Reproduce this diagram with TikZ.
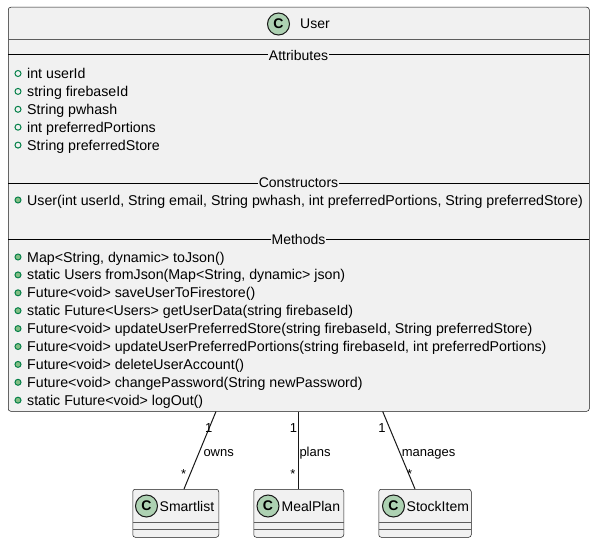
\documentclass[tikz,border=0pt]{standalone}
\usepackage{fontspec}
\setmainfont{Liberation Sans}
\usetikzlibrary{calc}
\definecolor{boxbg}{HTML}{F1F1F1}
\definecolor{boxline}{HTML}{181818}
\definecolor{iconfill}{HTML}{ADD1B2}
\definecolor{visline}{HTML}{038048}
\definecolor{visfill}{HTML}{84BE84}
\begin{document}
\begin{tikzpicture}[x=1pt,y=-1pt,
  classbox/.style={draw=boxline, fill=boxbg, line width=0.5pt, rounded corners=2.5pt, rectangle, inner sep=0pt, anchor=north west},
  member/.style={anchor=base west, inner sep=0pt, font=\fontsize{14.2}{16}\selectfont},
  cname/.style={anchor=base west, inner sep=0pt, font=\fontsize{14}{16}\selectfont},
  seclabel/.style={fill=boxbg, inner xsep=1pt, inner ysep=0pt, font=\fontsize{14}{16}\selectfont},
  secline/.style={draw=black, line width=1pt},
  hsep/.style={draw=boxline!70, line width=0.5pt},
  icon/.style={circle, draw=boxline, fill=iconfill, line width=1pt, minimum size=22pt, inner sep=0pt, font=\bfseries\fontsize{14}{16}\selectfont},
  attrdot/.style={circle, draw=visline, line width=1pt, minimum size=6pt, inner sep=0pt},
  methdot/.style={circle, draw=visline, fill=visfill, line width=1pt, minimum size=6pt, inner sep=0pt},
  assoc/.style={draw=boxline, line width=1pt},
  elabel/.style={anchor=base west, inner sep=0pt, font=\fontsize{13}{15}\selectfont},
]
\useasboundingbox (0,0) rectangle (595,543);
\fill[white] (0,0) rectangle (595,543);

% User class
\node[classbox, minimum width=581pt, minimum height=404pt] (user) at (8,7) {};
\draw[hsep] (8,39) -- (589,39);
\node[icon] (uicon) at (278.5,24) {C};
\node[cname] (uname) at (300,29) {User};

\draw[secline] (8,55) -- (589,55);
\node[seclabel] (secattr) at (298.5,55) {Attributes};
\foreach \t [count=\i from 0] in {{int userId},{string firebaseId},{String pwhash},{int preferredPortions},{String preferredStore}} {
  \node[attrdot] (ad\i) at (18,{73.5+17.9*\i}) {};
  \node[member] (at\i) at (27,{78.5+17.9*\i}) {\t};
}

\draw[secline] (8,183) -- (589,183);
\node[seclabel] (seccons) at (298.5,183) {Constructors};
\node[methdot] (cd0) at (18,200) {};
\node[member] (ct0) at (27,205) {User(int userId, String email, String pwhash, int preferredPortions, String preferredStore)};

\draw[secline] (8,239) -- (589,239);
\node[seclabel] (secmeth) at (298.5,239) {Methods};
\foreach \t [count=\i from 0] in {
  {Map<String, dynamic> toJson()},
  {static Users fromJson(Map<String, dynamic> json)},
  {Future<void> saveUserToFirestore()},
  {static Future<Users> getUserData(string firebaseId)},
  {Future<void> updateUserPreferredStore(string firebaseId, String preferredStore)},
  {Future<void> updateUserPreferredPortions(string firebaseId, int preferredPortions)},
  {Future<void> deleteUserAccount()},
  {Future<void> changePassword(String newPassword)},
  {static Future<void> logOut()}} {
  \node[methdot] (md\i) at (18,{257+17.9*\i}) {};
  \node[member] (mt\i) at (27,{262+17.9*\i}) {\t};
}

% Smartlist
\node[classbox, minimum width=86pt, minimum height=48pt] (smart) at (132.5,489) {};
\draw[hsep] (132.5,522) -- (218.5,522);
\draw[hsep] (132.5,529) -- (218.5,529);
\node[icon] (sicon) at (146.5,506) {C};
\node[cname] (sname) at (159.5,511) {Smartlist};

% MealPlan
\node[classbox, minimum width=90pt, minimum height=48pt] (meal) at (253.5,489) {};
\draw[hsep] (253.5,522) -- (343.5,522);
\draw[hsep] (253.5,529) -- (343.5,529);
\node[icon] (micon) at (268,506) {C};
\node[cname] (mname) at (281.5,511) {MealPlan};

% StockItem
\node[classbox, minimum width=92.5pt, minimum height=48pt] (stock) at (378.5,489) {};
\draw[hsep] (378.5,522) -- (471,522);
\draw[hsep] (378.5,529) -- (471,529);
\node[icon] (kicon) at (393.5,506) {C};
\node[cname] (kname) at (406.5,511) {StockItem};

% associations
\draw[assoc] ($(user.south west)+(208,0)$) -- ($(smart.north west)+(51.5,0)$);
\draw[assoc] (meal.north |- user.south) -- (meal.north);
\draw[assoc] ($(user.south west)+(374.7,0)$) -- ($(stock.north west)+(36.5,0)$);

\node[elabel] (s1) at (205,432.7) {1};
\node[elabel] (s2) at (203.3,456) {owns};
\node[elabel] (s3) at (180.8,478) {*};

\node[elabel] (m1) at (289.7,432.7) {1};
\node[elabel] (m2) at (299.3,456) {plans};
\node[elabel] (m3) at (290.2,478) {*};

\node[elabel] (k1) at (378.1,432.7) {1};
\node[elabel] (k2) at (401.7,456) {manages};
\node[elabel] (k3) at (406.8,478) {*};
\end{tikzpicture}
\end{document}
